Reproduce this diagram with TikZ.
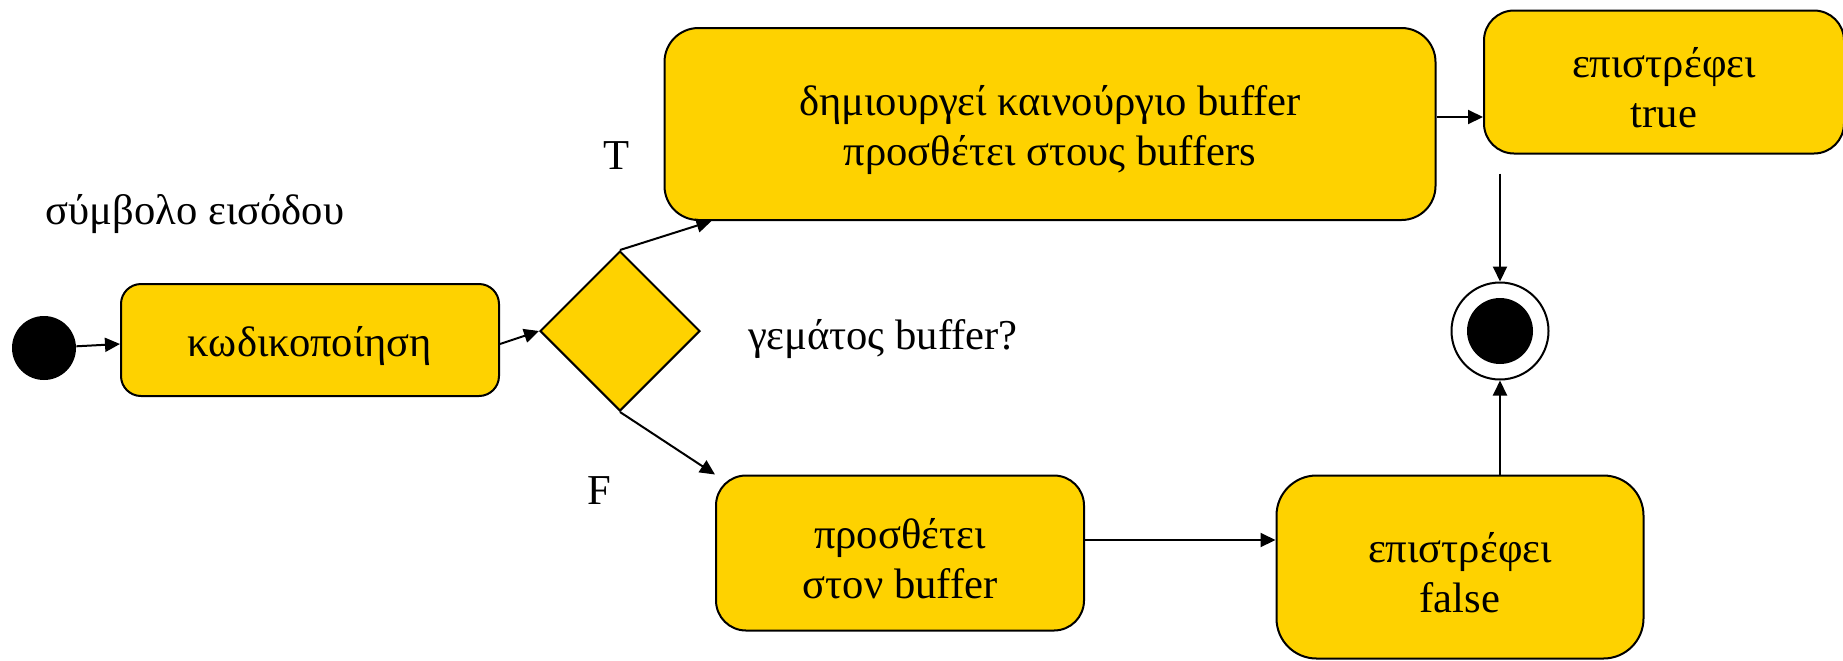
\documentclass[tikz,border=0pt]{standalone}
\usepackage{fontspec}
\setmainfont{Liberation Serif}
\usetikzlibrary{shapes.geometric,arrows.meta}
\definecolor{boxgold}{RGB}{254,210,0}
\begin{document}
\begin{tikzpicture}[x=0.5pt,y=-0.5pt,
  txt/.style={font=\fontsize{21.3}{25}\selectfont, inner sep=0pt, align=center},
  action/.style={draw, line width=1pt, fill=boxgold, inner sep=0pt},
  intext/.style={txt, yshift=-3pt},
  arr/.style={-{Triangle[length=7.5pt,width=7pt]}, line width=1pt},
  ]
\useasboundingbox (0,0) rectangle (1843,660);

% start and end states
\node[circle, fill=black, minimum size=32pt, inner sep=0pt] (init) at (44,348) {};
\node[circle, draw, line width=1pt, fill=white, minimum size=48.5pt, inner sep=0pt] (fin) at (1500,331) {};
\fill (fin.center) circle (16.5pt);

% actions
\node[action, rounded corners=10pt, minimum width=189pt, minimum height=56pt] (enc) at (310,340) {};
\node[intext] (enc-t) at (enc) {κωδικοποίηση};
\node[draw, line width=1pt, fill=boxgold, diamond, aspect=1, minimum size=80pt, inner sep=0pt] (dec) at (620,331) {};
\node[action, rounded corners=17pt, minimum width=385.5pt, minimum height=96pt] (newbuf) at (1050,124) {};
\node[intext] (newbuf-t) at (newbuf) {δημιουργεί καινούργιο buffer\\προσθέτει στους buffers};
\node[action, rounded corners=15pt, minimum width=180pt, minimum height=71.5pt] (rettrue) at (1664,82) {};
\node[intext] (rettrue-t) at (rettrue) {επιστρέφει\\true};
\node[action, rounded corners=15pt, minimum width=184pt, minimum height=77.5pt] (addbuf) at (900,553) {};
\node[intext] (addbuf-t) at (addbuf) {προσθέτει\\στον buffer};
\node[action, rounded corners=20pt, minimum width=183.5pt, minimum height=91.5pt] (retfalse) at (1460,567) {};
\node[intext] (retfalse-t) at (retfalse) {επιστρέφει\\false};

% labels
\node[txt] (inlbl) at (195,214) {σύμβολο εισόδου};
\node[txt] (qlbl) at (883,339) {γεμάτος buffer?};
\node[txt] (tlbl) at (617,156) {T};
\node[txt] (flbl) at (599,491) {F};

% transitions
\draw[arr] (init) -- ([yshift=-2pt]enc.west);
\draw[arr] ([yshift=-2pt]enc.east) -- (dec.west);
\draw[arr] (dec.north) -- ([xshift=24pt]newbuf.south west);
\draw[arr] (dec.south) -- (addbuf.north west);
\draw[arr] ([yshift=3.5pt]newbuf.east) -- ([yshift=3.5pt]newbuf.east -| rettrue.west);
\draw[arr] ([yshift=-9.5pt]rettrue.south west -| fin.north) -- (fin.north);
\draw[arr] ([yshift=6.5pt]addbuf.east) -- ([yshift=6.5pt]addbuf.east -| retfalse.west);
\draw[arr] (retfalse.north -| fin.south) -- (fin.south);
\end{tikzpicture}
\end{document}
